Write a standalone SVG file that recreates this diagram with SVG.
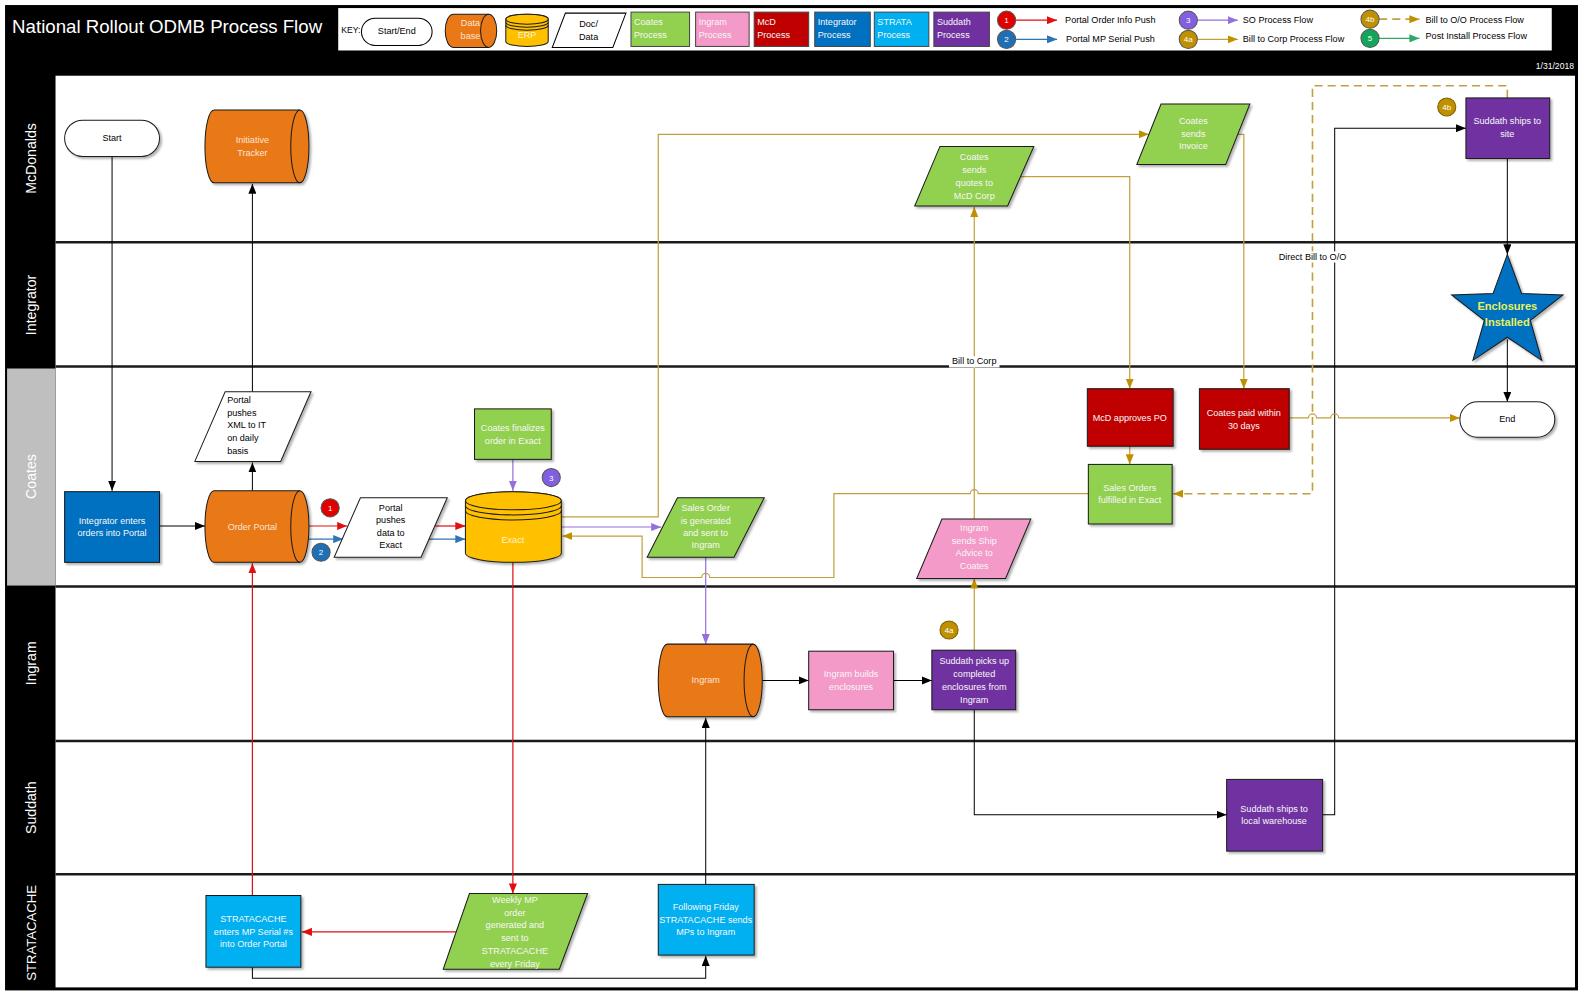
<svg xmlns="http://www.w3.org/2000/svg" width="1583" height="996" viewBox="0 0 1583 996">
<defs>
<style>
text{font-family:"Liberation Sans",Arial,sans-serif;}
.t{font-size:9px;fill:#000;text-anchor:middle;}
.tl{font-size:9px;fill:#000;}
.w{font-size:9px;fill:#F7F7F7;text-anchor:middle;}
.wl{font-size:9px;fill:#F7F7F7;}
.or{font-size:9px;fill:#FCE4D6;text-anchor:middle;}
.lane{font-size:14px;fill:#fff;text-anchor:middle;}
.bd{font-size:8px;fill:#fff;text-anchor:middle;}
.nd{stroke:#1a1a1a;stroke-width:1;filter:url(#sh);}
.sep{stroke:#1a1a1a;stroke-width:2.5;}
.k{fill:none;stroke:#000;stroke-width:1;}
.r{fill:none;stroke:#E01010;stroke-width:1.2;}
.b{fill:none;stroke:#2E75B6;stroke-width:1.2;}
.p{fill:none;stroke:#9370DB;stroke-width:1.2;}
.g{fill:none;stroke:#C0A040;stroke-width:1.2;}
.gd{fill:none;stroke:#C0A040;stroke-width:1.6;stroke-dasharray:8 5;}
.gr{fill:none;stroke:#2BA86A;stroke-width:1.2;}
.lbl{font-size:9px;fill:#000;text-anchor:middle;}
</style>
<filter id="sh" x="-10%" y="-10%" width="130%" height="130%"><feDropShadow dx="2" dy="2" stdDeviation="1.2" flood-color="#000" flood-opacity="0.3"/></filter>
<marker id="ak" markerUnits="userSpaceOnUse" markerWidth="10" markerHeight="8" refX="10" refY="4" orient="auto"><path d="M0,0 L10,4 L0,8 Z" fill="#000"/></marker>
<marker id="ar" markerUnits="userSpaceOnUse" markerWidth="10" markerHeight="8" refX="10" refY="4" orient="auto"><path d="M0,0 L10,4 L0,8 Z" fill="#E01010"/></marker>
<marker id="ab" markerUnits="userSpaceOnUse" markerWidth="10" markerHeight="8" refX="10" refY="4" orient="auto"><path d="M0,0 L10,4 L0,8 Z" fill="#2E75B6"/></marker>
<marker id="ap" markerUnits="userSpaceOnUse" markerWidth="10" markerHeight="8" refX="10" refY="4" orient="auto"><path d="M0,0 L10,4 L0,8 Z" fill="#9370DB"/></marker>
<marker id="ag" markerUnits="userSpaceOnUse" markerWidth="10" markerHeight="8" refX="10" refY="4" orient="auto"><path d="M0,0 L10,4 L0,8 Z" fill="#BF9000"/></marker>
<marker id="agr" markerUnits="userSpaceOnUse" markerWidth="10" markerHeight="8" refX="10" refY="4" orient="auto"><path d="M0,0 L10,4 L0,8 Z" fill="#2BA86A"/></marker>
</defs>
<rect width="1583" height="996" fill="#fff"/>
<g transform="scale(1.0096)">
<!-- frame and lanes -->
<g id="frame">
<rect x="5" y="5" width="1558" height="976" fill="#000"/>
<rect x="55" y="75" width="1505" height="903" fill="#fff"/>
<rect x="7" y="365" width="48" height="215" fill="#BFBFBF"/>
<line class="sep" x1="55" y1="240" x2="1561" y2="240"/>
<line class="sep" x1="55" y1="363" x2="1561" y2="363"/>
<line class="sep" x1="55" y1="581" x2="1561" y2="581"/>
<line class="sep" x1="55" y1="734" x2="1561" y2="734"/>
<line class="sep" x1="55" y1="866" x2="1561" y2="866"/>
<text class="lane" transform="translate(36,157) rotate(-90)">McDonalds</text>
<text class="lane" transform="translate(36,302) rotate(-90)">Integrator</text>
<text class="lane" transform="translate(36,472) rotate(-90)">Coates</text>
<text class="lane" transform="translate(36,657) rotate(-90)">Ingram</text>
<text class="lane" transform="translate(36,800) rotate(-90)">Suddath</text>
<text class="lane" style="font-size:13px" transform="translate(36,924) rotate(-90)">STRATACACHE</text>
<text x="12" y="33" style="font-size:18.5px;fill:#fff">National Rollout ODMB Process Flow</text>
<text x="1559" y="68" style="font-size:8.5px;fill:#fff;text-anchor:end">1/31/2018</text>
</g>
<!-- key -->
<g id="key">
<rect x="335" y="8" width="1202" height="42" fill="#fff"/>
<text class="tl" x="338" y="33" style="font-size:8.5px">KEY:</text>
<rect x="358" y="18" width="70" height="27" rx="13.5" fill="#fff" stroke="#000"/>
<text class="t" x="393" y="34">Start/End</text>
<path d="M449,14 L484,14 A8,16.5 0 0 1 484,47 L449,47 A8,16.5 0 0 1 449,14 Z" fill="#E97817" stroke="#1a1a1a"/>
<path d="M484,14 A8,16.5 0 0 0 484,47" fill="none" stroke="#1a1a1a"/>
<text class="or" x="466" y="26">Data</text><text class="or" x="466" y="39">base</text>
<path d="M501,19 L501,41 A21,5 0 0 0 543,41 L543,19 A21,5 0 0 0 501,19 Z" fill="#FFC000" stroke="#1a1a1a"/>
<ellipse cx="522" cy="19" rx="21" ry="5" fill="#FFC000" stroke="#1a1a1a"/>
<path d="M501,22 A21,5 0 0 0 543,22 M501,25 A21,5 0 0 0 543,25" fill="none" stroke="#1a1a1a"/>
<text class="w" x="522" y="38" style="fill:#FFF2CC">ERP</text>
<polygon points="560,13 620,13 607,47 547,47" fill="#fff" stroke="#000"/>
<text class="t" x="583" y="27">Doc/</text><text class="t" x="583" y="40">Data</text>
<rect x="625" y="12" width="58" height="34" fill="#92D050" stroke="#444"/>
<text class="wl" x="628" y="25">Coates</text><text class="wl" x="628" y="38">Process</text>
<rect x="689" y="12" width="53" height="34" fill="#F49AC8" stroke="#444"/>
<text class="wl" x="692" y="25">Ingram</text><text class="wl" x="692" y="38">Process</text>
<rect x="747" y="12" width="54" height="34" fill="#C00000" stroke="#444"/>
<text class="wl" x="750" y="25">McD</text><text class="wl" x="750" y="38">Process</text>
<rect x="807" y="12" width="55" height="34" fill="#0070C0" stroke="#444"/>
<text class="wl" x="810" y="25">Integrator</text><text class="wl" x="810" y="38">Process</text>
<rect x="866" y="12" width="54" height="34" fill="#00B0F0" stroke="#444"/>
<text class="wl" x="869" y="25">STRATA</text><text class="wl" x="869" y="38">Process</text>
<rect x="925" y="12" width="55" height="34" fill="#7030A0" stroke="#444"/>
<text class="wl" x="928" y="25">Suddath</text><text class="wl" x="928" y="38">Process</text>
<line class="r" x1="1006" y1="20" x2="1047" y2="20" marker-end="url(#ar)"/>
<line class="b" x1="1006" y1="39" x2="1047" y2="39" marker-end="url(#ab)"/>
<line class="p" x1="1185" y1="20" x2="1226" y2="20" marker-end="url(#ap)"/>
<line class="g" x1="1185" y1="39" x2="1226" y2="39" marker-end="url(#ag)"/>
<line class="gd" x1="1366" y1="19" x2="1406" y2="19" marker-end="url(#ag)"/>
<line class="gr" x1="1366" y1="38" x2="1406" y2="38" marker-end="url(#agr)"/>
<circle cx="997" cy="20" r="9" fill="#E00000" stroke="#555"/><text class="bd" x="997" y="23">1</text>
<circle cx="997" cy="39" r="9" fill="#1F6FB5" stroke="#555"/><text class="bd" x="997" y="42">2</text>
<circle cx="1177" cy="20" r="9" fill="#8060E0" stroke="#555"/><text class="bd" x="1177" y="23">3</text>
<circle cx="1177" cy="39" r="9" fill="#BF9000" stroke="#555"/><text class="bd" x="1177" y="42">4a</text>
<circle cx="1357" cy="19" r="9" fill="#BF9000" stroke="#555"/><text class="bd" x="1357" y="22">4b</text>
<circle cx="1357" cy="38" r="9" fill="#13A55A" stroke="#555"/><text class="bd" x="1357" y="41">5</text>
<text class="tl" x="1055" y="23">Portal Order Info Push</text>
<text class="tl" x="1056" y="42">Portal MP Serial Push</text>
<text class="tl" x="1231" y="23">SO Process Flow</text>
<text class="tl" x="1231" y="42">Bill to Corp Process Flow</text>
<text class="tl" x="1412" y="23">Bill to O/O Process Flow</text>
<text class="tl" x="1412" y="39">Post Install Process Flow</text>
</g>
<!-- connectors -->
<g id="connectors">
<path class="k" d="M111,155 L111,486" marker-end="url(#ak)"/>
<path class="k" d="M158,521 L203,521" marker-end="url(#ak)"/>
<path class="k" d="M250,486 L250,458" marker-end="url(#ak)"/>
<path class="k" d="M250,388 L250,182" marker-end="url(#ak)"/>
<path class="k" d="M755,674 L801,674" marker-end="url(#ak)"/>
<path class="k" d="M885,674 L923,674" marker-end="url(#ak)"/>
<path class="k" d="M965,703 L965,807 L1215,807" marker-end="url(#ak)"/>
<path class="k" d="M1310,807 L1322,807 L1322,127 L1452,127" marker-end="url(#ak)"/>
<path class="k" d="M1493,157 L1493,252" marker-end="url(#ak)"/>
<path class="k" d="M1493,336 L1493,398" marker-end="url(#ak)"/>
<path class="k" d="M250,958 L250,969 L699,969 L699,947" marker-end="url(#ak)"/>
<path class="k" d="M699,876 L699,711" marker-end="url(#ak)"/>
<path class="r" d="M306,521 L344,521" marker-end="url(#ar)"/>
<path class="r" d="M431,521 L461,521" marker-end="url(#ar)"/>
<path class="r" d="M508,557 L508,885" marker-end="url(#ar)"/>
<path class="r" d="M452,923 L299,923" marker-end="url(#ar)"/>
<path class="r" d="M250,887 L250,558" marker-end="url(#ar)"/>
<path class="b" d="M306,534 L340,534" marker-end="url(#ab)"/>
<path class="b" d="M425,534 L461,534" marker-end="url(#ab)"/>
<path class="p" d="M508,455 L508,486" marker-end="url(#ap)"/>
<path class="p" d="M556,522 L655,522" marker-end="url(#ap)"/>
<path class="p" d="M699,552 L699,638" marker-end="url(#ap)"/>
<path class="g" d="M556,512 L652,512 L652,133 L1138,133" marker-end="url(#ag)"/>
<path class="g" d="M1226,133 L1232,133 L1232,385" marker-end="url(#ag)"/>
<path class="g" d="M1011,175 L1119,175 L1119,385" marker-end="url(#ag)"/>
<path class="g" d="M1119,442 L1119,460" marker-end="url(#ag)"/>
<path class="g" d="M1078,489 L969,489 A4,4 0 0 0 961,489 L826,489 L826,572 L703,572 A4,4 0 0 0 695,572 L636,572 L636,531 L557,531" marker-end="url(#ag)"/>
<path class="g" d="M965,644 L965,573" marker-end="url(#ag)"/>
<path class="g" d="M965,514 L965,205" marker-end="url(#ag)"/>
<path class="g" d="M1277,414 L1296,414 A4,4 0 0 1 1304,414 L1318,414 A4,4 0 0 1 1326,414 L1446,414" marker-end="url(#ag)"/>
<path class="gd" d="M1493,97 L1493,85 L1300,85 L1300,489 L1162,489" marker-end="url(#ag)"/>
<rect x="1263" y="249" width="74" height="11" fill="#fff"/>
<text class="lbl" x="1300" y="258">Direct Bill to O/O</text>
<rect x="940" y="353" width="50" height="11" fill="#fff"/>
<text class="lbl" x="965" y="361">Bill to Corp</text>
</g>
<!-- nodes -->
<g id="n-start"><rect class="nd" x="64" y="119" width="94" height="36" rx="18" fill="#fff"/><text class="t" x="111" y="140">Start</text></g>
<g id="n-tracker"><path class="nd" d="M212,109 L297,109 A9,36 0 0 1 297,181 L212,181 A9,36 0 0 1 212,109 Z" fill="#E97817"/><path d="M297,109 A9,36 0 0 0 297,181" fill="none" stroke="#1a1a1a"/><text class="or" x="250" y="142">Initiative</text><text class="or" x="250" y="155">Tracker</text></g>
<g id="n-quotes"><polygon class="nd" points="931,145 1024,145 998,204 906,204" fill="#92D050"/><text class="w" x="965" y="158">Coates</text><text class="w" x="965" y="171">sends</text><text class="w" x="965" y="184">quotes to</text><text class="w" x="965" y="197">McD Corp</text></g>
<g id="n-invoice"><polygon class="nd" points="1150,103 1238,103 1214,163 1126,163" fill="#92D050"/><text class="w" x="1182" y="123">Coates</text><text class="w" x="1182" y="136">sends</text><text class="w" x="1182" y="148">Invoice</text></g>
<g id="n-site"><rect class="nd" x="1452" y="97" width="83" height="60" fill="#7030A0"/><text class="w" x="1493" y="123">Suddath ships to</text><text class="w" x="1493" y="136">site</text></g>
<g id="b-4b"><circle cx="1433" cy="106" r="9" fill="#BF9000" stroke="#7F6000"/><text class="bd" x="1433" y="109">4b</text></g>
<g id="n-installed"><polygon class="nd" points="1493,252 1507.1,290.6 1548.2,292.1 1515.8,317.4 1527.1,356.9 1493,334 1458.9,356.9 1470.2,317.4 1437.8,292.1 1478.9,290.6" fill="#0070C0"/><text x="1493" y="307" style="font-size:11px;font-weight:bold;fill:#E6F25A;text-anchor:middle">Enclosures</text><text x="1493" y="323" style="font-size:11px;font-weight:bold;fill:#E6F25A;text-anchor:middle">Installed</text></g>
<g id="n-xml"><polygon class="nd" points="223,388 308,388 278,457 193,457" fill="#fff"/><text class="tl" x="225" y="399">Portal</text><text class="tl" x="225" y="412">pushes</text><text class="tl" x="225" y="424">XML to IT</text><text class="tl" x="225" y="437">on daily</text><text class="tl" x="225" y="450">basis</text></g>
<g id="n-integrator"><rect class="nd" x="64" y="487" width="94" height="70" fill="#0070C0"/><text class="w" x="111" y="519">Integrator enters</text><text class="w" x="111" y="531">orders into Portal</text></g>
<g id="n-portal"><path class="nd" d="M212,486 L297,486 A9,35.5 0 0 1 297,557 L212,557 A9,35.5 0 0 1 212,486 Z" fill="#E97817"/><path d="M297,486 A9,35.5 0 0 0 297,557" fill="none" stroke="#1a1a1a"/><text class="or" x="250" y="525">Order Portal</text></g>
<g id="b-1"><circle cx="327" cy="503" r="9" fill="#E00000" stroke="#555"/><text class="bd" x="327" y="506">1</text></g>
<g id="b-2"><circle cx="318" cy="547" r="9" fill="#1F6FB5" stroke="#555"/><text class="bd" x="318" y="550">2</text></g>
<g id="n-pushdata"><polygon class="nd" points="357,493 443,493 417,552 331,552" fill="#fff"/><text class="t" x="387" y="506">Portal</text><text class="t" x="387" y="518">pushes</text><text class="t" x="387" y="531">data to</text><text class="t" x="387" y="543">Exact</text></g>
<g id="n-finalize"><rect class="nd" x="470" y="405" width="76" height="50" fill="#92D050"/><text class="w" x="508" y="427">Coates finalizes</text><text class="w" x="508" y="440">order in Exact</text></g>
<g id="b-3"><circle cx="546" cy="473" r="9" fill="#8060E0" stroke="#555"/><text class="bd" x="546" y="476">3</text></g>
<g id="n-exact"><path class="nd" d="M461,496 L461,548 A47.5,9 0 0 0 556,548 L556,496 A47.5,9 0 0 0 461,496 Z" fill="#FFC000"/><ellipse cx="508.5" cy="496" rx="47.5" ry="9" fill="#FFC000" stroke="#1a1a1a"/><path d="M461,501 A47.5,9 0 0 0 556,501 M461,506 A47.5,9 0 0 0 556,506" fill="none" stroke="#1a1a1a"/><text class="w" x="508" y="538" style="fill:#FFF2CC">Exact</text></g>
<g id="n-salesorder"><polygon class="nd" points="671,493 757,493 727,552 641,552" fill="#92D050"/><text class="w" x="699" y="506">Sales Order</text><text class="w" x="699" y="519">is generated</text><text class="w" x="699" y="531">and sent to</text><text class="w" x="699" y="543">Ingram</text></g>
<g id="n-shipadvice"><polygon class="nd" points="933,514 1021,514 996,573 908,573" fill="#F49AC8"/><text class="w" x="965" y="526">Ingram</text><text class="w" x="965" y="539">sends Ship</text><text class="w" x="965" y="551">Advice to</text><text class="w" x="965" y="564">Coates</text></g>
<g id="n-approve"><rect class="nd" x="1077" y="385" width="85" height="57" fill="#C00000"/><text class="w" x="1119" y="417">McD approves PO</text></g>
<g id="n-paid"><rect class="nd" x="1188" y="385" width="89" height="60" fill="#C00000"/><text class="w" x="1232" y="412">Coates paid within</text><text class="w" x="1232" y="425">30 days</text></g>
<g id="n-fulfilled"><rect class="nd" x="1078" y="460" width="83" height="59" fill="#92D050"/><text class="w" x="1119" y="486">Sales Orders</text><text class="w" x="1119" y="498">fulfilled in Exact</text></g>
<g id="n-end"><rect class="nd" x="1446" y="398" width="94" height="35" rx="17.5" fill="#fff"/><text class="t" x="1493" y="418">End</text></g>
<g id="n-ingram"><path class="nd" d="M661,638 L746,638 A9,36 0 0 1 746,710 L661,710 A9,36 0 0 1 661,638 Z" fill="#E97817"/><path d="M746,638 A9,36 0 0 0 746,710" fill="none" stroke="#1a1a1a"/><text class="or" x="699" y="677">Ingram</text></g>
<g id="n-builds"><rect class="nd" x="801" y="645" width="84" height="58" fill="#F49AC8"/><text class="w" x="843" y="671">Ingram builds</text><text class="w" x="843" y="683">enclosures</text></g>
<g id="n-pickup"><rect class="nd" x="923" y="644" width="83" height="59" fill="#7030A0"/><text class="w" x="965" y="658">Suddath picks up</text><text class="w" x="965" y="671">completed</text><text class="w" x="965" y="683">enclosures from</text><text class="w" x="965" y="696">Ingram</text></g>
<g id="b-4a"><circle cx="940" cy="624" r="9" fill="#BF9000" stroke="#7F6000"/><text class="bd" x="940" y="627">4a</text></g>
<g id="n-warehouse"><rect class="nd" x="1215" y="772" width="95" height="71" fill="#7030A0"/><text class="w" x="1262" y="804">Suddath ships to</text><text class="w" x="1262" y="816">local warehouse</text></g>
<g id="n-serial"><rect class="nd" x="204" y="887" width="94" height="71" fill="#00B0F0"/><text class="w" x="251" y="913">STRATACACHE</text><text class="w" x="251" y="926">enters MP Serial #s</text><text class="w" x="251" y="938">into Order Portal</text></g>
<g id="n-weekly"><polygon class="nd" points="465,885 582,885 554,960 439,960" fill="#92D050"/><text class="w" x="510" y="894">Weekly MP</text><text class="w" x="510" y="907">order</text><text class="w" x="510" y="919">generated and</text><text class="w" x="510" y="932">sent to</text><text class="w" x="510" y="945">STRATACACHE</text><text class="w" x="510" y="958">every Friday</text></g>
<g id="n-friday"><rect class="nd" x="652" y="876" width="95" height="70" fill="#00B0F0"/><text class="w" x="699" y="901">Following Friday</text><text class="w" x="699" y="914">STRATACACHE sends</text><text class="w" x="699" y="926">MPs to Ingram</text></g>
</g>
</svg>
